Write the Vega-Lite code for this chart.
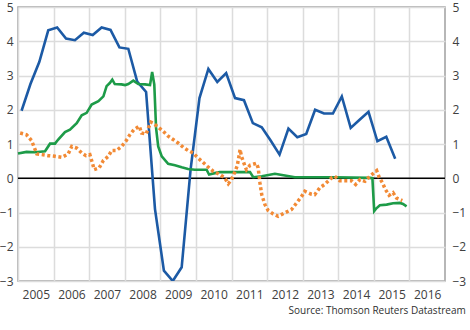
{
  "$schema": "https://vega.github.io/schema/vega-lite/v6.json",
  "width": 427,
  "height": 274,
  "autosize": "none",
  "padding": {"left": 18, "top": 7, "right": 25, "bottom": 49},
  "background": "white",
  "config": {
    "font": "Open Sans",
    "view": {"stroke": "#a0a0a0", "strokeWidth": 1.5},
    "axis": {"labelFont": "Open Sans", "labelFontSize": 12, "labelColor": "#404040", "gridColor": "#dcdcdc", "gridWidth": 1.5, "ticks": false, "domain": false, "title": null, "labelOverlap": false, "labelFlush": false}
  },
  "title": {"text": "Source: Thomson Reuters Datastream", "orient": "bottom", "anchor": "end", "fontSize": 10, "fontWeight": "normal", "color": "#303030", "font": "Open Sans", "offset": 6},
  "datasets": {
    "blue": [
      {"t": 2005.1, "v": 1.97}, {"t": 2005.35, "v": 2.75}, {"t": 2005.6, "v": 3.4}, {"t": 2005.85, "v": 4.32},
      {"t": 2006.1, "v": 4.4}, {"t": 2006.35, "v": 4.08}, {"t": 2006.6, "v": 4.03}, {"t": 2006.85, "v": 4.25},
      {"t": 2007.1, "v": 4.18}, {"t": 2007.35, "v": 4.4}, {"t": 2007.6, "v": 4.33}, {"t": 2007.85, "v": 3.82},
      {"t": 2008.1, "v": 3.78}, {"t": 2008.35, "v": 2.82}, {"t": 2008.6, "v": 2.52}, {"t": 2008.85, "v": -0.9},
      {"t": 2009.1, "v": -2.7}, {"t": 2009.35, "v": -3.0}, {"t": 2009.6, "v": -2.6}, {"t": 2009.85, "v": 0.25},
      {"t": 2010.1, "v": 2.34}, {"t": 2010.35, "v": 3.19}, {"t": 2010.6, "v": 2.81}, {"t": 2010.85, "v": 3.07},
      {"t": 2011.1, "v": 2.34}, {"t": 2011.35, "v": 2.28}, {"t": 2011.6, "v": 1.61}, {"t": 2011.85, "v": 1.49},
      {"t": 2012.1, "v": 1.1}, {"t": 2012.35, "v": 0.69}, {"t": 2012.6, "v": 1.45}, {"t": 2012.85, "v": 1.2},
      {"t": 2013.1, "v": 1.29}, {"t": 2013.35, "v": 2.0}, {"t": 2013.6, "v": 1.89}, {"t": 2013.85, "v": 1.89},
      {"t": 2014.1, "v": 2.39}, {"t": 2014.35, "v": 1.47}, {"t": 2014.6, "v": 1.71}, {"t": 2014.85, "v": 1.94},
      {"t": 2015.1, "v": 1.08}, {"t": 2015.35, "v": 1.21}, {"t": 2015.6, "v": 0.57}
    ],
    "green": [
      {"t": 2005.0, "v": 0.72}, {"t": 2005.24, "v": 0.77}, {"t": 2005.48, "v": 0.76}, {"t": 2005.76, "v": 0.79},
      {"t": 2005.9, "v": 1.01}, {"t": 2006.04, "v": 1.01}, {"t": 2006.13, "v": 1.13}, {"t": 2006.32, "v": 1.35},
      {"t": 2006.46, "v": 1.42}, {"t": 2006.65, "v": 1.61}, {"t": 2006.79, "v": 1.84}, {"t": 2006.93, "v": 1.91},
      {"t": 2007.07, "v": 2.15}, {"t": 2007.26, "v": 2.25}, {"t": 2007.4, "v": 2.39}, {"t": 2007.49, "v": 2.69},
      {"t": 2007.58, "v": 2.78}, {"t": 2007.65, "v": 2.88}, {"t": 2007.72, "v": 2.75}, {"t": 2007.91, "v": 2.74},
      {"t": 2008.01, "v": 2.72}, {"t": 2008.1, "v": 2.75}, {"t": 2008.24, "v": 2.85}, {"t": 2008.38, "v": 2.75},
      {"t": 2008.57, "v": 2.74}, {"t": 2008.71, "v": 2.72}, {"t": 2008.77, "v": 3.1}, {"t": 2008.83, "v": 2.74},
      {"t": 2008.88, "v": 1.47}, {"t": 2008.94, "v": 0.93}, {"t": 2009.04, "v": 0.64}, {"t": 2009.22, "v": 0.42},
      {"t": 2009.41, "v": 0.38}, {"t": 2009.6, "v": 0.32}, {"t": 2009.78, "v": 0.27}, {"t": 2009.97, "v": 0.25},
      {"t": 2010.3, "v": 0.25}, {"t": 2010.37, "v": 0.11}, {"t": 2010.53, "v": 0.15}, {"t": 2010.67, "v": 0.18},
      {"t": 2010.96, "v": 0.18}, {"t": 2011.1, "v": 0.18}, {"t": 2011.52, "v": 0.18}, {"t": 2011.61, "v": 0.03},
      {"t": 2011.85, "v": 0.06}, {"t": 2012.22, "v": 0.13}, {"t": 2012.5, "v": 0.08}, {"t": 2012.78, "v": 0.03},
      {"t": 2013.9, "v": 0.03}, {"t": 2014.89, "v": 0.01}, {"t": 2014.96, "v": 0.0}, {"t": 2015.01, "v": -0.96},
      {"t": 2015.08, "v": -0.87}, {"t": 2015.17, "v": -0.79}, {"t": 2015.36, "v": -0.77}, {"t": 2015.54, "v": -0.73},
      {"t": 2015.73, "v": -0.72}, {"t": 2015.82, "v": -0.75}, {"t": 2015.92, "v": -0.82}
    ],
    "orange": [
      {"t": 2005.06, "v": 1.32}, {"t": 2005.24, "v": 1.27}, {"t": 2005.38, "v": 1.1}, {"t": 2005.53, "v": 0.71},
      {"t": 2005.67, "v": 0.69}, {"t": 2005.85, "v": 0.66}, {"t": 2006.04, "v": 0.64}, {"t": 2006.23, "v": 0.61},
      {"t": 2006.41, "v": 0.71}, {"t": 2006.51, "v": 0.93}, {"t": 2006.65, "v": 0.88}, {"t": 2006.79, "v": 0.74},
      {"t": 2006.91, "v": 0.66}, {"t": 2007.02, "v": 0.69}, {"t": 2007.09, "v": 0.45}, {"t": 2007.14, "v": 0.25},
      {"t": 2007.28, "v": 0.3}, {"t": 2007.4, "v": 0.52}, {"t": 2007.54, "v": 0.64}, {"t": 2007.63, "v": 0.81},
      {"t": 2007.77, "v": 0.81}, {"t": 2007.91, "v": 0.93}, {"t": 2008.03, "v": 1.08}, {"t": 2008.15, "v": 1.28},
      {"t": 2008.26, "v": 1.42}, {"t": 2008.41, "v": 1.52}, {"t": 2008.47, "v": 1.32}, {"t": 2008.6, "v": 1.29},
      {"t": 2008.73, "v": 1.64}, {"t": 2008.8, "v": 1.61}, {"t": 2008.94, "v": 1.49}, {"t": 2009.08, "v": 1.37},
      {"t": 2009.22, "v": 1.23}, {"t": 2009.36, "v": 1.13}, {"t": 2009.5, "v": 1.03}, {"t": 2009.66, "v": 0.89},
      {"t": 2009.78, "v": 0.81}, {"t": 2009.92, "v": 0.74}, {"t": 2010.04, "v": 0.61}, {"t": 2010.16, "v": 0.5},
      {"t": 2010.32, "v": 0.35}, {"t": 2010.49, "v": 0.2}, {"t": 2010.67, "v": 0.11}, {"t": 2010.81, "v": 0.01},
      {"t": 2010.91, "v": -0.16}, {"t": 2011.0, "v": -0.04}, {"t": 2011.1, "v": 0.2}, {"t": 2011.16, "v": 0.36},
      {"t": 2011.22, "v": 0.7}, {"t": 2011.24, "v": 0.84}, {"t": 2011.28, "v": 0.64}, {"t": 2011.38, "v": 0.35},
      {"t": 2011.42, "v": 0.25}, {"t": 2011.52, "v": 0.38}, {"t": 2011.7, "v": 0.44}, {"t": 2011.75, "v": 0.3},
      {"t": 2011.8, "v": -0.14}, {"t": 2011.85, "v": -0.48}, {"t": 2011.94, "v": -0.77}, {"t": 2012.03, "v": -0.94},
      {"t": 2012.17, "v": -1.04}, {"t": 2012.31, "v": -1.11}, {"t": 2012.5, "v": -1.01}, {"t": 2012.69, "v": -0.91},
      {"t": 2012.83, "v": -0.72}, {"t": 2012.97, "v": -0.53}, {"t": 2013.06, "v": -0.38}, {"t": 2013.23, "v": -0.46},
      {"t": 2013.34, "v": -0.48}, {"t": 2013.48, "v": -0.28}, {"t": 2013.62, "v": -0.18}, {"t": 2013.81, "v": 0.01},
      {"t": 2013.9, "v": 0.06}, {"t": 2014.04, "v": -0.07}, {"t": 2014.23, "v": -0.07}, {"t": 2014.37, "v": -0.07},
      {"t": 2014.49, "v": -0.18}, {"t": 2014.61, "v": -0.04}, {"t": 2014.75, "v": -0.09}, {"t": 2014.89, "v": 0.06},
      {"t": 2015.08, "v": 0.22}, {"t": 2015.15, "v": 0.03}, {"t": 2015.25, "v": -0.15}, {"t": 2015.32, "v": -0.32},
      {"t": 2015.43, "v": -0.5}, {"t": 2015.54, "v": -0.42}, {"t": 2015.64, "v": -0.58}, {"t": 2015.8, "v": -0.65}
    ],
    "zero": [{"v": 0}]
  },
  "layer": [
    {
      "data": {"name": "zero"},
      "mark": {"type": "rule", "color": "#000000", "strokeWidth": 1.5},
      "encoding": {
        "y": {"field": "v", "type": "quantitative", "scale": {"domain": [-3, 5], "nice": false, "zero": false},
          "axis": {"orient": "left", "values": [-3, -2, -1, 0, 1, 2, 3, 4, 5], "grid": true, "labelPadding": 5, "format": "d"}}
      }
    },
    {
      "data": {"name": "blue"},
      "mark": {"type": "line", "color": "#1c5aa5", "strokeWidth": 2.6, "clip": true},
      "encoding": {
        "x": {"field": "t", "type": "quantitative", "scale": {"domain": [2005, 2017], "nice": false, "zero": false},
          "axis": {"values": [2005, 2006, 2007, 2008, 2009, 2010, 2011, 2012, 2013, 2014, 2015, 2016], "format": "d", "labelOffset": 17.8, "grid": true, "labelPadding": 8}},
        "y": {"field": "v", "type": "quantitative", "axis": null}
      }
    },
    {
      "data": {"name": "green"},
      "mark": {"type": "line", "color": "#1d9b48", "strokeWidth": 2.6},
      "encoding": {
        "x": {"field": "t", "type": "quantitative",
          "axis": {"values": [2005, 2006, 2007, 2008, 2009, 2010, 2011, 2012, 2013, 2014, 2015, 2016], "format": "d", "labelOffset": 17.8, "grid": true, "labelPadding": 8}},
        "y": {"field": "v", "type": "quantitative", "axis": null}
      }
    },
    {
      "data": {"name": "orange"},
      "mark": {"type": "line", "color": "#f28a35", "strokeWidth": 3.5, "strokeDash": [3, 2.6]},
      "encoding": {
        "x": {"field": "t", "type": "quantitative",
          "axis": {"values": [2005, 2006, 2007, 2008, 2009, 2010, 2011, 2012, 2013, 2014, 2015, 2016], "format": "d", "labelOffset": 17.8, "grid": true, "labelPadding": 8}},
        "y": {"field": "v", "type": "quantitative",
          "axis": {"orient": "right", "values": [-3, -2, -1, 0, 1, 2, 3, 4, 5], "grid": false, "labelPadding": 7, "format": "d"}}
      }
    }
  ],
  "resolve": {"axis": {"y": "independent"}}
}
